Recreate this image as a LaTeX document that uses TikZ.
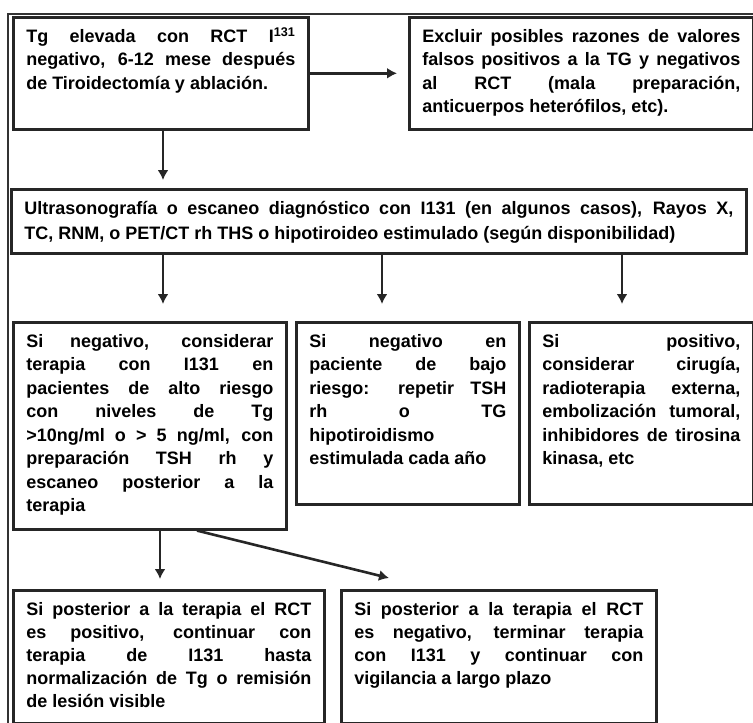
\documentclass[tikz,border=0pt]{standalone}
\usepackage{fontspec}
\setmainfont{Liberation Sans}
\usetikzlibrary{positioning}
\usetikzlibrary{arrows.meta}
\tolerance=10000
\hbadness=10000
\tikzset{
    caja/.style = {rectangle, draw=black!85, line width=2.6pt, anchor=north west, align=justify, inner xsep=13pt, inner ysep=11pt, text height=14pt, font=\bfseries\fontsize{18}{23.5}\selectfont},
    marco/.style = {line width=2pt, draw=black!80}, % outer frame
    edgen/.style = {-{Latex[length=10pt,width=11pt]}, line width=2.6pt, black!85},
}

\begin{document}
\begin{tikzpicture}[x=1pt,y=-1pt]
  \useasboundingbox (0,0) rectangle (753,723);
  \draw[marco] (8,723) -- (8,14) -- (753,14);

  \node[caja, text width=269pt, text depth=76pt] (tg) at (12,16) {Tg elevada con RCT I\textsuperscript{131}\linebreak negativo, 6-12 mese después\linebreak de Tiroidectomía  y ablación.};
  \node[caja, text width=318pt, text depth=76pt] (excluir) at (408,16) {Excluir posibles razones de valores\linebreak falsos positivos a la TG y negativos\linebreak al RCT (mala preparación,\linebreak anticuerpos heterófilos, etc).};
  \node[caja, text width=709pt, text depth=28pt, font=\bfseries\fontsize{18}{25}\selectfont] (estudio) at (10,188) {Ultrasonografía o escaneo diagnóstico con I131 (en algunos casos), Rayos X,\linebreak TC, RNM, o PET/CT rh THS o hipotiroideo estimulado (según disponibilidad)};

  \node[caja, text width=247pt, text depth=171pt] (neg) at (12,321) {Si negativo, considerar\linebreak terapia con I131 en\linebreak pacientes de alto riesgo\linebreak con niveles de Tg\linebreak >10ng/ml o > 5 ng/ml, con\linebreak preparación TSH rh y\linebreak escaneo posterior a la\linebreak terapia};
  \node[caja, text width=197pt, text depth=146pt] (bajo) at (295,321) {Si negativo en\linebreak paciente de bajo\linebreak riesgo: repetir TSH\linebreak rh o TG\linebreak hipotiroidismo\linebreak estimulada cada año};
  \node[caja, text width=198pt, text depth=146pt] (pos) at (528,321) {Si positivo,\linebreak considerar cirugía,\linebreak radioterapia externa,\linebreak embolización tumoral,\linebreak inhibidores de tirosina\linebreak kinasa, etc};

  \node[caja, text width=285pt, text depth=97pt, font=\bfseries\fontsize{18}{23}\selectfont] (rctpos) at (12,589) {Si posterior a la terapia el RCT\linebreak es positivo, continuar con\linebreak terapia de I131 hasta\linebreak normalización de Tg o remisión\linebreak de lesión visible};
  \node[caja, text width=289pt, text depth=97pt, font=\bfseries\fontsize{18}{23}\selectfont] (rctneg) at (340,589) {Si posterior a la terapia el RCT\linebreak es negativo, terminar terapia\linebreak con I131 y continuar con\linebreak vigilancia a largo plazo};

  \draw[edgen, shorten >=11pt] (tg.east) -- (excluir.west);
  \draw[edgen, shorten >=8pt] (tg.south -| 163,0) -- (estudio.north -| 163,0);
  \draw[edgen, shorten >=17pt] (estudio.south -| 163,0) -- (neg.north -| 163,0);
  \draw[edgen, shorten >=17pt] (estudio.south -| 382,0) -- (bajo.north -| 382,0);
  \draw[edgen, shorten >=17pt] (estudio.south -| 622,0) -- (pos.north -| 622,0);
  \draw[edgen, shorten >=10pt] (neg.south -| 160,0) -- (rctpos.north -| 160,0);
  \coordinate (fin) at (389,578);
  \draw[edgen] (neg.south -| 197,0) -- (fin);
\end{tikzpicture}
\end{document}
